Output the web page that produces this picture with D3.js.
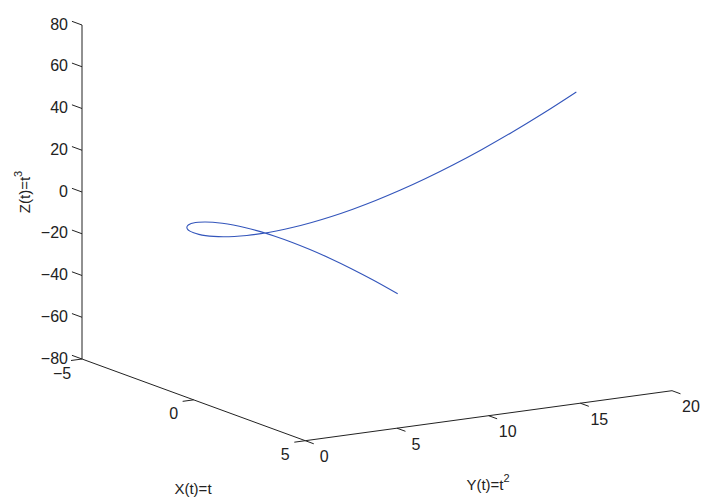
<!DOCTYPE html>
<meta charset="utf-8">
<script src="https://d3js.org/d3.v7.min.js"></script>
<style>
  body { margin: 0; background: #fff; }
  text { font-family: "Liberation Sans", Arial, sans-serif; fill: #222; }
</style>
<div id="chart"></div>
<script>

// curve samples: X(t)=t, Y(t)=t^2, Z(t)=t^3 for t = -4..4
var xVals = [-4, -3.8, -3.6, -3.4, -3.2, -3, -2.8, -2.6, -2.4, -2.2, -2, -1.8, -1.6, -1.4, -1.2, -1, -0.8, -0.6, -0.4, -0.2,
  0, 0.2, 0.4, 0.6, 0.8, 1, 1.2, 1.4, 1.6, 1.8, 2, 2.2, 2.4, 2.6, 2.8, 3, 3.2, 3.4, 3.6, 3.8, 4];
var yVals = [16, 14.44, 12.96, 11.56, 10.24, 9, 7.84, 6.76, 5.76, 4.84, 4, 3.24, 2.56, 1.96, 1.44, 1, 0.64, 0.36, 0.16, 0.04,
  0, 0.04, 0.16, 0.36, 0.64, 1, 1.44, 1.96, 2.56, 3.24, 4, 4.84, 5.76, 6.76, 7.84, 9, 10.24, 11.56, 12.96, 14.44, 16];
var zVals = [-64, -54.872, -46.656, -39.304, -32.768, -27, -21.952, -17.576, -13.824, -10.648, -8, -5.832, -4.096, -2.744, -1.728, -1, -0.512, -0.216, -0.064, -0.008,
  0, 0.008, 0.064, 0.216, 0.512, 1, 1.728, 2.744, 4.096, 5.832, 8, 10.648, 13.824, 17.576, 21.952, 27, 32.768, 39.304, 46.656, 54.872, 64];

// tick labels
var xTicks = [-5, 0, 5];
var yTicks = [0, 5, 10, 15, 20];
var zTicks = [-80, -60, -40, -20, 0, 20, 40, 60, 80];

var width = 705, height = 497;
var origin = [82, 359];   // screen position of (x=-5, y=0, z=-80)

var svg = d3.select("#chart").append("svg")
    .attr("width", width)
    .attr("height", height);

// each axis maps its value to a 2D screen offset
var xAx = d3.scaleLinear().domain([-5, 5]).range([[0, 0], [223.3, 81.7]]);
var yAx = d3.scaleLinear().domain([0, 20]).range([[0, 0], [366.7, -50]]);
var zAx = d3.scaleLinear().domain([-80, 80]).range([[0, 0], [0, -334]]);

function proj(x, y, z) {
  var a = xAx(x), b = yAx(y), c = zAx(z);
  return [origin[0] + a[0] + b[0] + c[0], origin[1] + a[1] + b[1] + c[1]];
}

function seg(g, p, q) {
  g.append("line")
    .attr("x1", p[0]).attr("y1", p[1])
    .attr("x2", q[0]).attr("y2", q[1])
    .attr("stroke", "#222").attr("stroke-width", 1);
}

var axes = svg.append("g");

// axis lines
seg(axes, proj(-5, 0, -80), proj(-5, 0, 80));
seg(axes, proj(-5, 0, -80), proj(5, 0, -80));
seg(axes, proj(5, 0, -80), proj(5, 20, -80));

// z ticks (pointing along -x)
zTicks.forEach(function(v) {
  var p = proj(-5, 0, v), q = proj(-5.45, 0, v);
  seg(axes, p, q);
  axes.append("text")
    .attr("x", 68).attr("y", p[1] - 1)
    .attr("text-anchor", "end")
    .attr("dominant-baseline", "central")
    .style("font-size", "16px")
    .text(d3.format("")(v).replace("-", "\u2212"));
});

// x ticks (pointing along -y)
xTicks.forEach(function(v) {
  var p = proj(v, 0, -80), q = proj(v, -0.6, -80);
  seg(axes, p, q);
  axes.append("text")
    .attr("x", p[0] - 20).attr("y", p[1] + 14)
    .attr("text-anchor", "middle")
    .attr("dominant-baseline", "central")
    .style("font-size", "16px")
    .text(String(v).replace("-", "\u2212"));
});

// y ticks (pointing along +x)
yTicks.forEach(function(v) {
  var p = proj(5, v, -80), q = proj(5.38, v, -80);
  seg(axes, p, q);
  axes.append("text")
    .attr("x", p[0] + 19).attr("y", p[1] + 16)
    .attr("text-anchor", "middle")
    .attr("dominant-baseline", "central")
    .style("font-size", "16px")
    .text(v);
});

// axis labels
axes.append("text")
  .attr("x", 193).attr("y", 488)
  .attr("text-anchor", "middle")
  .attr("dominant-baseline", "central")
  .style("font-size", "15px")
  .text("X(t)=t");

var yl = axes.append("text")
  .attr("x", 488).attr("y", 484)
  .attr("text-anchor", "middle")
  .attr("dominant-baseline", "central")
  .style("font-size", "15px");
yl.append("tspan").text("Y(t)=t");
yl.append("tspan").attr("dy", -6).style("font-size", "11px").text("2");

var zl = axes.append("text")
  .attr("transform", "translate(24,192) rotate(-90)")
  .attr("text-anchor", "middle")
  .attr("dominant-baseline", "central")
  .style("font-size", "15px");
zl.append("tspan").text("Z(t)=t");
zl.append("tspan").attr("dy", -6).style("font-size", "11px").text("3");

// the curve
var pts = xVals.map(function(x, i) { return proj(x, yVals[i], zVals[i]); });
svg.append("path")
  .datum(pts)
  .attr("fill", "none")
  .attr("stroke", "#3355bb")
  .attr("stroke-width", 1.1)
  .attr("d", d3.line().curve(d3.curveCatmullRom));

</script>
